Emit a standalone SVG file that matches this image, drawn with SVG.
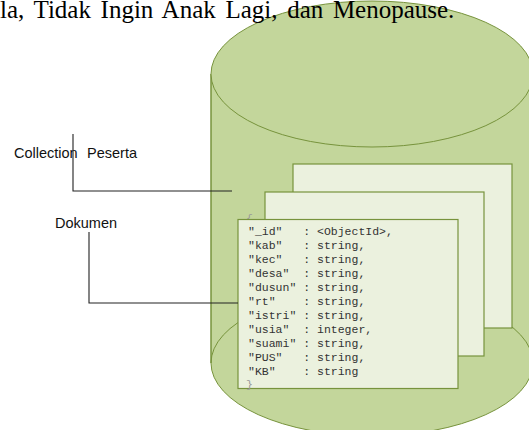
<svg xmlns="http://www.w3.org/2000/svg" width="529" height="430" viewBox="0 0 529 430">
<style>
.cyl{fill:#c3d69b;stroke:#77933c;stroke-width:1}
.side{stroke:#77933c;stroke-width:1.5;fill:none}
.card{fill:#ebf1de;stroke:#77933c;stroke-width:1.2}
.code{font-family:"Liberation Mono",monospace;font-size:11.5px;fill:#333;white-space:pre}
.brace{font-family:"Liberation Mono",monospace;font-size:11.5px;fill:#9a9a9a}
.lbl{font-family:"Liberation Sans",Arial,sans-serif;font-size:14.5px;fill:#111}
.head{font-family:"Liberation Serif","Times New Roman",serif;font-size:25px;fill:#000;word-spacing:3.4px}
.conn{fill:none;stroke:#222;stroke-width:1.1}
</style>
<rect width="529" height="430" fill="#fff"/>
<g id="collection">
  <rect x="211" y="74" width="322" height="289" fill="#c3d69b"/>
  <ellipse cx="372" cy="363" rx="161" ry="73" class="cyl"/>
  <line x1="211" y1="74" x2="211" y2="363" class="side"/>
  <ellipse cx="372" cy="74" rx="161" ry="73" class="cyl"/>
</g>
<g id="doc-back"><rect x="293" y="164" width="219" height="164" class="card"/></g>
<g id="doc-middle"><rect x="265" y="192" width="219" height="164" class="card"/></g>
<text class="brace" x="246" y="222">{</text>
<g id="doc-front">
  <rect x="238" y="219.5" width="220" height="169" class="card"/>
  <text class="code" xml:space="preserve"><tspan x="248" y="235">"_id"   : &lt;ObjectId&gt;,</tspan><tspan x="248" y="249">"kab"   : string,</tspan><tspan x="248" y="263">"kec"   : string,</tspan><tspan x="248" y="277">"desa"  : string,</tspan><tspan x="248" y="291">"dusun" : string,</tspan><tspan x="248" y="305">"rt"    : string,</tspan><tspan x="248" y="319">"istri" : string,</tspan><tspan x="248" y="333">"usia"  : integer,</tspan><tspan x="248" y="347">"suami" : string,</tspan><tspan x="248" y="361">"PUS"   : string,</tspan><tspan x="248" y="375">"KB"    : string</tspan></text>
  <text class="brace" x="246" y="388">}</text>
</g>
<g id="connectors">
  <polyline class="conn" points="73,134 73,191 232,191"/>
  <polyline class="conn" points="89,232 89,303 238,303"/>
</g>
<g id="label-collection"><text class="lbl" x="14" y="158">Collection <tspan x="87">Peserta</tspan></text></g>
<g id="label-dokumen"><text class="lbl" x="55" y="228">Dokumen</text></g>
<text class="head" x="0" y="18">la, Tidak Ingin Anak Lagi, dan Menopause.</text>
</svg>
